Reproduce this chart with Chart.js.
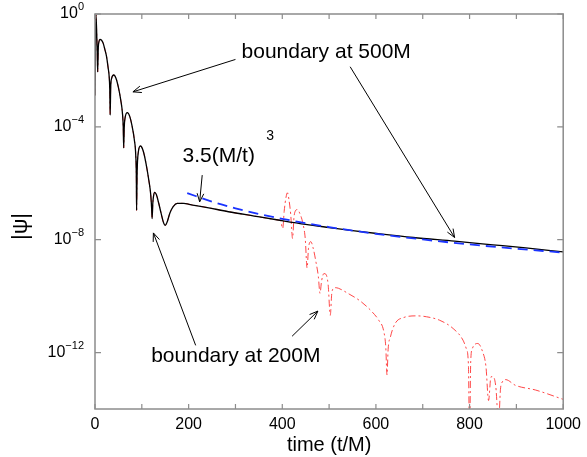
<!DOCTYPE html>
<html>
<head>
<meta charset="utf-8">
<script src="https://cdn.jsdelivr.net/npm/chart.js@4"></script>
<style>
  html, body { margin: 0; padding: 0; background: #fff; }
  canvas { display: block; }
</style>
</head>
<body>
<canvas id="decay-chart" width="587" height="457"></canvas>
<script>
// |psi|, boundary at 500M (black solid)
const blackT = [0, 1, 2, 3.5, 4.7, 5.7, 7, 8.5, 10.6, 14, 17.6, 21, 24.7, 28, 30.3, 31.6, 32.4,
  33.5, 35.5, 40.2, 45, 50, 55, 58.5, 60.3, 61.3, 62.5, 64.5, 69, 74, 79, 84, 87, 88.3, 88.8,
  90, 92.5, 97, 103, 109, 115, 119, 121, 122, 123.5, 125, 127.5, 131, 136, 141, 146, 150, 154,
  160, 167, 176, 190, 201, 240, 285, 340, 391, 450, 500, 550, 602, 680, 768, 850, 920, 1000];
const blackPsi = [1.3e-3, 1e-1, 0.95, 2.5e-1, 5e-2, 8.9e-3, 6.3e-2, 1.05e-1, 1.26e-1, 1.17e-1, 9.1e-2, 5.6e-2, 3.1e-2, 1.26e-2, 6e-3, 2e-3, 2.6e-4,
  2.5e-3, 5.2e-3, 6.9e-3, 5.2e-3, 2.5e-3, 8.9e-4, 3.2e-4, 1e-4, 1.8e-5, 1e-4, 2.2e-4, 3.2e-4, 2.4e-4, 1.1e-4, 3.5e-5, 1e-5, 1.6e-6, 1.1e-7,
  2.5e-6, 1.26e-5, 2.1e-5, 1.4e-5, 5e-6, 1.26e-6, 4e-7, 1.26e-7, 5.6e-8, 2e-7, 3.5e-7, 4.8e-7, 4e-7, 2e-7, 8.9e-8, 4.2e-8, 3.2e-8, 4.2e-8,
  8.9e-8, 1.5e-7, 1.95e-7, 1.95e-7, 1.8e-7, 1.38e-7, 9.8e-8, 6.9e-8, 5e-8, 3.5e-8, 2.7e-8, 2.1e-8, 1.66e-8, 1.2e-8, 8.9e-9, 6.6e-9, 5.1e-9, 3.7e-9];

// boundary at 200M (red dash-dot): same as black up to t=391, then this tail
const redSplitT = 391;
const redTailT = [396, 401, 404, 408, 411, 414, 418, 422, 425, 428, 432, 437, 444, 449, 453, 456, 461, 466, 472, 477,
  480.5, 484, 489, 493, 498, 502.5, 506, 512, 520, 540, 564, 581, 592, 606, 617, 621, 623.7, 626, 631, 641, 659,
  687, 708, 736, 765, 786, 793, 797.5, 800, 802.5, 806, 817.5, 828, 835, 840.6, 845.7, 850, 856, 862, 866, 870,
  877, 898, 941, 1000];
const redTailPsi = [4.7e-8, 2.5e-8, 1e-7, 3.2e-7, 4.6e-7, 2.8e-7, 7.9e-8, 1.1e-8, 6.3e-8, 1.05e-7, 1.17e-7, 8.9e-8, 3.8e-8, 1.12e-8, 1e-9, 5e-9, 8.5e-9, 5e-9, 1.6e-9, 5e-10,
  1.26e-10, 3.5e-10, 6.3e-10, 6e-10, 2.5e-10, 2.1e-11, 1.4e-10, 2e-10, 1.9e-10, 1.26e-10, 7.2e-11, 4.2e-11, 2.75e-11, 1.4e-11, 5.4e-12, 1.6e-12, 1.6e-13, 1.26e-12, 3.6e-12, 1.07e-11, 1.74e-11,
  2e-11, 1.86e-11, 1.4e-11, 7.1e-12, 2.75e-12, 1.38e-12, 4e-13, 1e-15, 5e-13, 1.4e-12, 2.1e-12, 1.05e-12, 3.2e-13, 2e-14, 1.38e-13, 1.4e-13, 6.3e-14, 3.2e-15, 5e-14, 9.1e-14,
  1.1e-13, 6.9e-14, 4.7e-14, 2.2e-14];

// 3.5(M/t)^3 reference line (blue dashed)
const powerLawT = [197, 250, 300, 350, 400, 500, 600, 700, 800, 900, 1000];
const powerLawPsi = [4.5e-7, 2.24e-7, 1.3e-7, 8.2e-8, 5.5e-8, 2.8e-8, 1.62e-8, 1.02e-8, 6.8e-9, 4.8e-9, 3.5e-9];

// axes
const xTickValues = [0, 100, 200, 300, 400, 500, 600, 700, 800, 900, 1000];
const xLabelEvery = 200;
const yTickValues = [1, 1e-4, 1e-8, 1e-12];
const yTickExponents = ["0", "\u22124", "\u22128", "\u221212"];

const FONT = "'Liberation Sans', Arial, Helvetica, sans-serif";

function toPoints(ts, vs) {
  return ts.map((t, i) => ({ x: t, y: vs[i] }));
}

const blackPoints = toPoints(blackT, blackPsi);
const redPoints = blackPoints
  .filter((p) => p.x <= redSplitT)
  .concat(toPoints(redTailT, redTailPsi));

// annotations, placed in data space
const notes = [
  { text: "boundary at 500M", t: 313, psi: 4.5e-2, size: 21 },
  { text: "3.5(M/t)", t: 187, psi: 9.1e-6, size: 21 },
  { text: "3", t: 366, psi: 4.7e-5, size: 14 },
  { text: "boundary at 200M", t: 120, psi: 7.4e-13, size: 21 },
];
const arrows = [
  [300, 2.45e-2, 81, 1.74e-3],
  [545, 1.35e-2, 768, 1.2e-8],
  [229, 1.95e-6, 223.5, 2.2e-7],
  [215, 1.8e-12, 124.7, 1.74e-8],
  [421, 3.8e-12, 476, 2.95e-11],
];

const framePlugin = {
  id: "frame",
  afterDraw(chart) {
    const { ctx, chartArea: a, scales } = chart;
    const xs = scales.x, ys = scales.y;
    ctx.save();

    // frame with inward ticks on all sides
    ctx.strokeStyle = "#8c8c8c";
    ctx.lineWidth = 1.5;
    ctx.strokeRect(a.left, a.top, a.right - a.left, a.bottom - a.top);
    ctx.lineWidth = 1.2;
    ctx.beginPath();
    xTickValues.forEach((v) => {
      const px = xs.getPixelForValue(v);
      ctx.moveTo(px, a.bottom); ctx.lineTo(px, a.bottom - 5);
      ctx.moveTo(px, a.top); ctx.lineTo(px, a.top + 5);
    });
    yTickValues.forEach((v) => {
      const py = ys.getPixelForValue(v);
      ctx.moveTo(a.left, py); ctx.lineTo(a.left + 6, py);
      ctx.moveTo(a.right, py); ctx.lineTo(a.right - 6, py);
    });
    ctx.stroke();

    // y tick labels: 10 with raised exponent
    ctx.fillStyle = "#000";
    ctx.textBaseline = "middle";
    yTickValues.forEach((v, i) => {
      const py = ys.getPixelForValue(v);
      ctx.font = "11px " + FONT;
      const ew = ctx.measureText(yTickExponents[i]).width;
      const right = a.left - 11;
      ctx.textAlign = "left";
      ctx.fillText(yTickExponents[i], right - ew, py - 7);
      ctx.font = "16px " + FONT;
      ctx.textAlign = "right";
      ctx.fillText("10", right - ew, py);
    });

    // y axis title
    ctx.save();
    ctx.translate(21, (a.top + a.bottom) / 2 + 15);
    ctx.rotate(-Math.PI / 2);
    ctx.font = "22px " + FONT;
    ctx.textAlign = "center";
    ctx.fillText("|\u03c8|", 0, 0);
    ctx.restore();

    // annotations
    notes.forEach((n) => {
      ctx.font = n.size + "px " + FONT;
      ctx.textAlign = "left";
      ctx.fillText(n.text, xs.getPixelForValue(n.t), ys.getPixelForValue(n.psi));
    });
    ctx.strokeStyle = "#000";
    ctx.lineWidth = 1;
    arrows.forEach(([t0, v0, t1, v1]) => {
      const x0 = xs.getPixelForValue(t0), y0 = ys.getPixelForValue(v0);
      const x1 = xs.getPixelForValue(t1), y1 = ys.getPixelForValue(v1);
      const ang = Math.atan2(y1 - y0, x1 - x0);
      const head = 9, spread = 0.38;
      ctx.beginPath();
      ctx.moveTo(x0, y0); ctx.lineTo(x1, y1);
      ctx.moveTo(x1 - head * Math.cos(ang - spread), y1 - head * Math.sin(ang - spread));
      ctx.lineTo(x1, y1);
      ctx.lineTo(x1 - head * Math.cos(ang + spread), y1 - head * Math.sin(ang + spread));
      ctx.stroke();
    });
    ctx.restore();
  },
};

new Chart(document.getElementById("decay-chart").getContext("2d"), {
  type: "line",
  data: {
    datasets: [
      {
        label: "3.5(M/t)^3",
        data: toPoints(powerLawT, powerLawPsi),
        borderColor: "#1a33ff",
        borderWidth: 1.8,
        borderDash: [10, 6],
        cubicInterpolationMode: "monotone",
      },
      {
        label: "boundary at 500M",
        data: blackPoints,
        borderColor: "#000",
        borderWidth: 1.3,
        cubicInterpolationMode: "monotone",
      },
      {
        label: "boundary at 200M",
        data: redPoints,
        borderColor: "rgba(255,40,40,0.85)",
        borderWidth: 1,
        borderDash: [7, 3, 2, 3],
        cubicInterpolationMode: "monotone",
      },
    ],
  },
  options: {
    responsive: false,
    animation: false,
    layout: { padding: { top: 14, right: 19, left: 0, bottom: 0 } },
    elements: { point: { radius: 0 }, line: { tension: 0 } },
    plugins: { legend: { display: false }, tooltip: { enabled: false } },
    scales: {
      x: {
        type: "linear",
        min: 0,
        max: 1000,
        grid: { display: false, drawTicks: false },
        border: { display: false },
        afterBuildTicks: (scale) => {
          scale.ticks = xTickValues.map((v) => ({ value: v }));
        },
        afterFit: (scale) => { scale.height = 48; },
        ticks: {
          autoSkip: false,
          maxRotation: 0,
          padding: 6,
          color: "#000",
          font: { family: FONT, size: 16 },
          callback: (v) => (v % xLabelEvery === 0 ? String(v) : ""),
        },
        title: {
          display: true,
          text: "time (t/M)",
          color: "#000",
          font: { family: FONT, size: 20 },
          padding: { top: 0, bottom: 0 },
        },
      },
      y: {
        type: "logarithmic",
        min: 1e-14,
        max: 1,
        grid: { display: false, drawTicks: false },
        border: { display: false },
        afterBuildTicks: (scale) => {
          scale.ticks = yTickValues.map((v) => ({ value: v }));
        },
        afterFit: (scale) => { scale.width = 95; },
        ticks: { display: false },
      },
    },
  },
  plugins: [framePlugin],
});
</script>
</body>
</html>
